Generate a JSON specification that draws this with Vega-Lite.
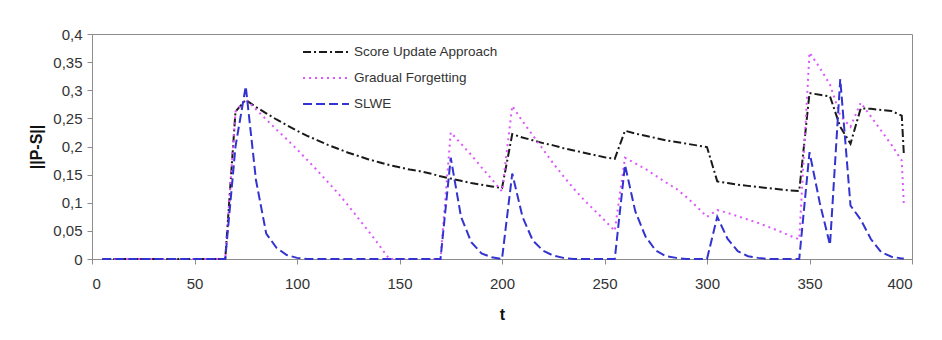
{
  "$schema": "https://vega.github.io/schema/vega-lite/v6.json",
  "width": 820,
  "height": 225,
  "autosize": {"type": "none"},
  "padding": {"left": 92, "top": 34, "right": 30, "bottom": 81},
  "background": "white",
  "config": {
    "font": "Liberation Sans",
    "view": {"stroke": "#8c8c8c", "strokeWidth": 1},
    "axis": {
      "labelFont": "Liberation Sans",
      "titleFont": "Liberation Sans",
      "domainColor": "#8c8c8c",
      "tickColor": "#8c8c8c",
      "labelColor": "#333333",
      "titleColor": "#111111",
      "grid": false,
      "tickSize": 5,
      "labelFontSize": 15,
      "titleFontSize": 16,
      "titleFontWeight": "bold"
    },
    "legend": {
      "labelFont": "Liberation Sans",
      "labelFontSize": 13.5,
      "labelColor": "#333333"
    }
  },
  "data": {
    "values": [
      {"t": 5, "score": 0, "gradual": 0, "slwe": 0},
      {"t": 10, "score": 0, "gradual": 0, "slwe": 0},
      {"t": 15, "score": 0, "gradual": 0, "slwe": 0},
      {"t": 20, "score": 0, "gradual": 0, "slwe": 0},
      {"t": 25, "score": 0, "gradual": 0, "slwe": 0},
      {"t": 30, "score": 0, "gradual": 0, "slwe": 0},
      {"t": 35, "score": 0, "gradual": 0, "slwe": 0},
      {"t": 40, "score": 0, "gradual": 0, "slwe": 0},
      {"t": 45, "score": 0, "gradual": 0, "slwe": 0},
      {"t": 50, "score": 0, "gradual": 0, "slwe": 0},
      {"t": 55, "score": 0, "gradual": 0, "slwe": 0},
      {"t": 60, "score": 0, "gradual": 0, "slwe": 0},
      {"t": 65, "score": 0, "gradual": 0, "slwe": 0},
      {"t": 70, "score": 0.262, "gradual": 0.262, "slwe": 0.2},
      {"t": 75, "score": 0.283, "gradual": 0.284, "slwe": 0.307},
      {"t": 80, "score": 0.27, "gradual": 0.266, "slwe": 0.14},
      {"t": 85, "score": 0.259, "gradual": 0.248, "slwe": 0.045},
      {"t": 90, "score": 0.248, "gradual": 0.23, "slwe": 0.02},
      {"t": 95, "score": 0.238, "gradual": 0.213, "slwe": 0.007},
      {"t": 100, "score": 0.228, "gradual": 0.195, "slwe": 0.002},
      {"t": 105, "score": 0.219, "gradual": 0.176, "slwe": 0},
      {"t": 110, "score": 0.211, "gradual": 0.157, "slwe": 0},
      {"t": 115, "score": 0.203, "gradual": 0.137, "slwe": 0},
      {"t": 120, "score": 0.196, "gradual": 0.117, "slwe": 0},
      {"t": 125, "score": 0.189, "gradual": 0.095, "slwe": 0},
      {"t": 130, "score": 0.183, "gradual": 0.072, "slwe": 0},
      {"t": 135, "score": 0.177, "gradual": 0.049, "slwe": 0},
      {"t": 140, "score": 0.172, "gradual": 0.025, "slwe": 0},
      {"t": 145, "score": 0.167, "gradual": 0, "slwe": 0},
      {"t": 150, "score": 0.163, "gradual": 0, "slwe": 0},
      {"t": 155, "score": 0.159, "gradual": 0, "slwe": 0},
      {"t": 160, "score": 0.156, "gradual": 0, "slwe": 0},
      {"t": 165, "score": 0.152, "gradual": 0, "slwe": 0},
      {"t": 170, "score": 0.147, "gradual": 0, "slwe": 0},
      {"t": 175, "score": 0.143, "gradual": 0.225, "slwe": 0.18},
      {"t": 180, "score": 0.139, "gradual": 0.205, "slwe": 0.075},
      {"t": 185, "score": 0.135, "gradual": 0.185, "slwe": 0.03},
      {"t": 190, "score": 0.132, "gradual": 0.163, "slwe": 0.01},
      {"t": 195, "score": 0.129, "gradual": 0.142, "slwe": 0.003},
      {"t": 200, "score": 0.126, "gradual": 0.12, "slwe": 0},
      {"t": 205, "score": 0.222, "gradual": 0.272, "slwe": 0.152},
      {"t": 210, "score": 0.216, "gradual": 0.245, "slwe": 0.075},
      {"t": 215, "score": 0.211, "gradual": 0.22, "slwe": 0.033},
      {"t": 220, "score": 0.206, "gradual": 0.195, "slwe": 0.015},
      {"t": 225, "score": 0.202, "gradual": 0.17, "slwe": 0.006},
      {"t": 230, "score": 0.197, "gradual": 0.147, "slwe": 0.002},
      {"t": 235, "score": 0.193, "gradual": 0.125, "slwe": 0},
      {"t": 240, "score": 0.189, "gradual": 0.105, "slwe": 0},
      {"t": 245, "score": 0.185, "gradual": 0.087, "slwe": 0},
      {"t": 250, "score": 0.181, "gradual": 0.069, "slwe": 0},
      {"t": 255, "score": 0.178, "gradual": 0.05, "slwe": 0},
      {"t": 260, "score": 0.228, "gradual": 0.18, "slwe": 0.167},
      {"t": 265, "score": 0.223, "gradual": 0.17, "slwe": 0.085},
      {"t": 270, "score": 0.219, "gradual": 0.16, "slwe": 0.04},
      {"t": 275, "score": 0.215, "gradual": 0.148, "slwe": 0.015},
      {"t": 280, "score": 0.211, "gradual": 0.136, "slwe": 0.005},
      {"t": 285, "score": 0.208, "gradual": 0.125, "slwe": 0.002},
      {"t": 290, "score": 0.205, "gradual": 0.11, "slwe": 0},
      {"t": 295, "score": 0.202, "gradual": 0.093, "slwe": 0},
      {"t": 300, "score": 0.199, "gradual": 0.075, "slwe": 0},
      {"t": 305, "score": 0.138, "gradual": 0.087, "slwe": 0.075},
      {"t": 310, "score": 0.135, "gradual": 0.082, "slwe": 0.036},
      {"t": 315, "score": 0.132, "gradual": 0.076, "slwe": 0.014},
      {"t": 320, "score": 0.13, "gradual": 0.07, "slwe": 0.005},
      {"t": 325, "score": 0.128, "gradual": 0.064, "slwe": 0.002},
      {"t": 330, "score": 0.126, "gradual": 0.057, "slwe": 0},
      {"t": 335, "score": 0.124, "gradual": 0.05, "slwe": 0},
      {"t": 340, "score": 0.122, "gradual": 0.042, "slwe": 0},
      {"t": 345, "score": 0.121, "gradual": 0.035, "slwe": 0},
      {"t": 350, "score": 0.295, "gradual": 0.367, "slwe": 0.19},
      {"t": 355, "score": 0.292, "gradual": 0.34, "slwe": 0.1},
      {"t": 360, "score": 0.289, "gradual": 0.31, "slwe": 0.025},
      {"t": 365, "score": 0.235, "gradual": 0.255, "slwe": 0.32},
      {"t": 370, "score": 0.205, "gradual": 0.235, "slwe": 0.095},
      {"t": 375, "score": 0.268, "gradual": 0.278, "slwe": 0.07},
      {"t": 380, "score": 0.267, "gradual": 0.253, "slwe": 0.035},
      {"t": 385, "score": 0.265, "gradual": 0.228, "slwe": 0.012},
      {"t": 390, "score": 0.263, "gradual": 0.203, "slwe": 0.004},
      {"t": 395, "score": 0.255, "gradual": 0.175, "slwe": 0.001},
      {"t": 396, "score": 0.188, "gradual": 0.097, "slwe": 0.001}
    ]
  },
  "transform": [
    {"fold": ["score", "gradual", "slwe"], "as": ["series", "v"]}
  ],
  "mark": {"type": "line", "strokeWidth": 2, "clip": false},
  "encoding": {
    "x": {
      "field": "t",
      "type": "quantitative",
      "scale": {"domain": [0, 400], "nice": false},
      "axis": {
        "title": "t",
        "values": [0, 50, 100, 150, 200, 250, 300, 350, 400],
        "labelPadding": 12,
        "titlePadding": 15
      }
    },
    "y": {
      "field": "v",
      "type": "quantitative",
      "scale": {"domain": [0, 0.4], "nice": false},
      "axis": {
        "title": "||P-S||",
        "values": [0, 0.05, 0.1, 0.15, 0.2, 0.25, 0.3, 0.35, 0.4],
        "labelExpr": "replace(format(datum.value, '.2~f'), '.', ',')",
        "labelPadding": 5,
        "titlePadding": 8
      }
    },
    "color": {
      "field": "series",
      "type": "nominal",
      "scale": {
        "domain": ["score", "gradual", "slwe"],
        "range": ["#1a1a1a", "#dd55ff", "#3333d0"]
      },
      "legend": {
        "title": null,
        "orient": "none",
        "legendX": 227,
        "legendY": 11,
        "symbolType": "M-4,0H4",
        "symbolSize": 132,
        "symbolStrokeWidth": 2,
        "rowPadding": 12,
        "labelOffset": 21,
        "labelExpr": "datum.value == 'score' ? 'Score Update Approach' : datum.value == 'gradual' ? 'Gradual Forgetting' : 'SLWE'"
      }
    },
    "strokeDash": {
      "field": "series",
      "type": "nominal",
      "scale": {
        "domain": ["score", "gradual", "slwe"],
        "range": [[8, 3, 2, 3], [2, 4], [9, 4]]
      },
      "legend": {
        "title": null,
        "orient": "none",
        "legendX": 227,
        "legendY": 11,
        "symbolType": "M-4,0H4",
        "symbolSize": 132,
        "symbolStrokeWidth": 2,
        "rowPadding": 12,
        "labelOffset": 21,
        "labelExpr": "datum.value == 'score' ? 'Score Update Approach' : datum.value == 'gradual' ? 'Gradual Forgetting' : 'SLWE'"
      }
    }
  }
}
